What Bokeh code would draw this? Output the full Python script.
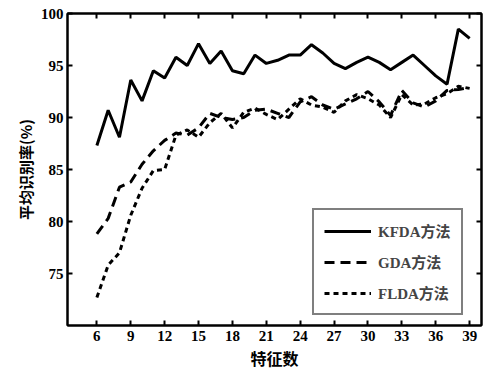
from bokeh.plotting import figure
from bokeh.models import (Range1d, FixedTicker, LinearAxis, Legend, LegendItem, Title,
                          CustomJSTickFormatter)
from bokeh.embed import file_html
from bokeh.resources import INLINE

features = list(range(6, 40))
kfda = [87.3, 90.7, 88.1, 93.6, 91.6, 94.5, 93.8, 95.8, 95.0, 97.1, 95.2, 96.4,
        94.5, 94.2, 96.0, 95.2, 95.5, 96.0, 96.0, 97.0, 96.2, 95.2, 94.7, 95.3,
        95.8, 95.3, 94.6, 95.3, 96.0, 95.0, 94.0, 93.2, 98.5, 97.6]
gda = [78.8, 80.3, 83.3, 83.8, 85.5, 86.8, 87.8, 88.5, 88.3, 89.0, 90.4, 90.0,
       89.8, 90.0, 90.7, 90.8, 90.4, 90.0, 91.5, 92.0, 91.2, 90.8, 91.3, 91.8,
       92.5, 91.5, 90.2, 92.6, 91.4, 91.0, 91.6, 92.6, 92.7, 92.9]
flda = [72.7, 75.8, 77.0, 80.6, 83.2, 84.9, 85.0, 88.3, 88.8, 88.1, 89.5, 90.4,
        89.0, 90.5, 90.9, 90.3, 89.8, 90.8, 91.8, 91.2, 91.0, 90.5, 91.6, 92.2,
        91.8, 91.2, 90.0, 92.2, 91.2, 91.3, 91.9, 92.3, 93.0, 92.8]
x_ticks = [6, 9, 12, 15, 18, 21, 24, 27, 30, 33, 36, 39]
y_ticks = [75, 80, 85, 90, 95, 100]
series_names = ["KFDA方法", "GDA方法", "FLDA方法"]
x_title = "特征数"
y_title = "平均识别率(%)"

SERIF = "'Liberation Serif', 'Noto Sans CJK SC'"
CJK = "'Noto Sans CJK SC'"

p = figure(frame_width=414, frame_height=312,
           x_range=Range1d(3.4, 40.05), y_range=Range1d(70, 100),
           output_backend="svg", toolbar_location=None,
           min_border_left=67, min_border_top=13, min_border_right=2, min_border_bottom=5)
p.background_fill_color = "white"
p.border_fill_color = "white"
p.grid.visible = False
p.outline_line_color = "black"
p.outline_line_width = 2

for ax in (p.xaxis[0], p.yaxis[0]):
    ax.major_tick_in = 5
    ax.major_tick_out = 0
    ax.minor_tick_in = 0
    ax.minor_tick_out = 0
    ax.axis_line_width = 2
    ax.major_tick_line_width = 2
    ax.major_label_text_font = SERIF
    ax.major_label_text_font_style = "bold"
    ax.major_label_text_font_size = "15px"
    ax.major_label_text_color = "black"

p.xaxis[0].ticker = FixedTicker(ticks=x_ticks)
p.yaxis[0].ticker = FixedTicker(ticks=y_ticks)
p.xaxis[0].major_label_standoff = 5
p.yaxis[0].major_label_standoff = 4

blank = CustomJSTickFormatter(code="return '';")
top = LinearAxis(ticker=FixedTicker(ticks=x_ticks), formatter=blank,
                 major_tick_in=5, major_tick_out=0, minor_tick_in=0, minor_tick_out=0,
                 major_label_standoff=0, axis_line_width=2, major_tick_line_width=2)
right = LinearAxis(ticker=FixedTicker(ticks=y_ticks), formatter=blank,
                   major_tick_in=5, major_tick_out=0, minor_tick_in=0, minor_tick_out=0,
                   major_label_standoff=0, axis_line_width=2, major_tick_line_width=2)
p.add_layout(top, "above")
p.add_layout(right, "right")

r1 = p.line(features, kfda, line_color="black", line_width=3)
r2 = p.line(features, gda, line_color="black", line_width=3, line_dash="10 6")
r3 = p.line(features, flda, line_color="black", line_width=3, line_dash="5 4")

legend = Legend(items=[LegendItem(label=series_names[0], renderers=[r1]),
                       LegendItem(label=series_names[1], renderers=[r2]),
                       LegendItem(label=series_names[2], renderers=[r3])],
                location=(245, 10), padding=10, spacing=10,
                glyph_width=47, glyph_height=20, label_height=20, label_standoff=7,
                label_text_font=SERIF, label_text_font_style="bold",
                label_text_font_size="15px",
                border_line_color="black", border_line_width=2,
                background_fill_color="white", background_fill_alpha=1.0,
                margin=0)
p.add_layout(legend, "center")

xt = Title(text=x_title, align="center", offset=25, text_font=CJK,
           text_font_style="bold", text_font_size="16px", text_color="black",
           standoff=0)
p.add_layout(xt, "below")
yt = Title(text=y_title, align="center", offset=17, text_font=CJK,
           text_font_style="bold", text_font_size="15px", text_color="black",
           standoff=4)
p.add_layout(yt, "left")

open("out.html", "w").write(file_html(p, INLINE))
